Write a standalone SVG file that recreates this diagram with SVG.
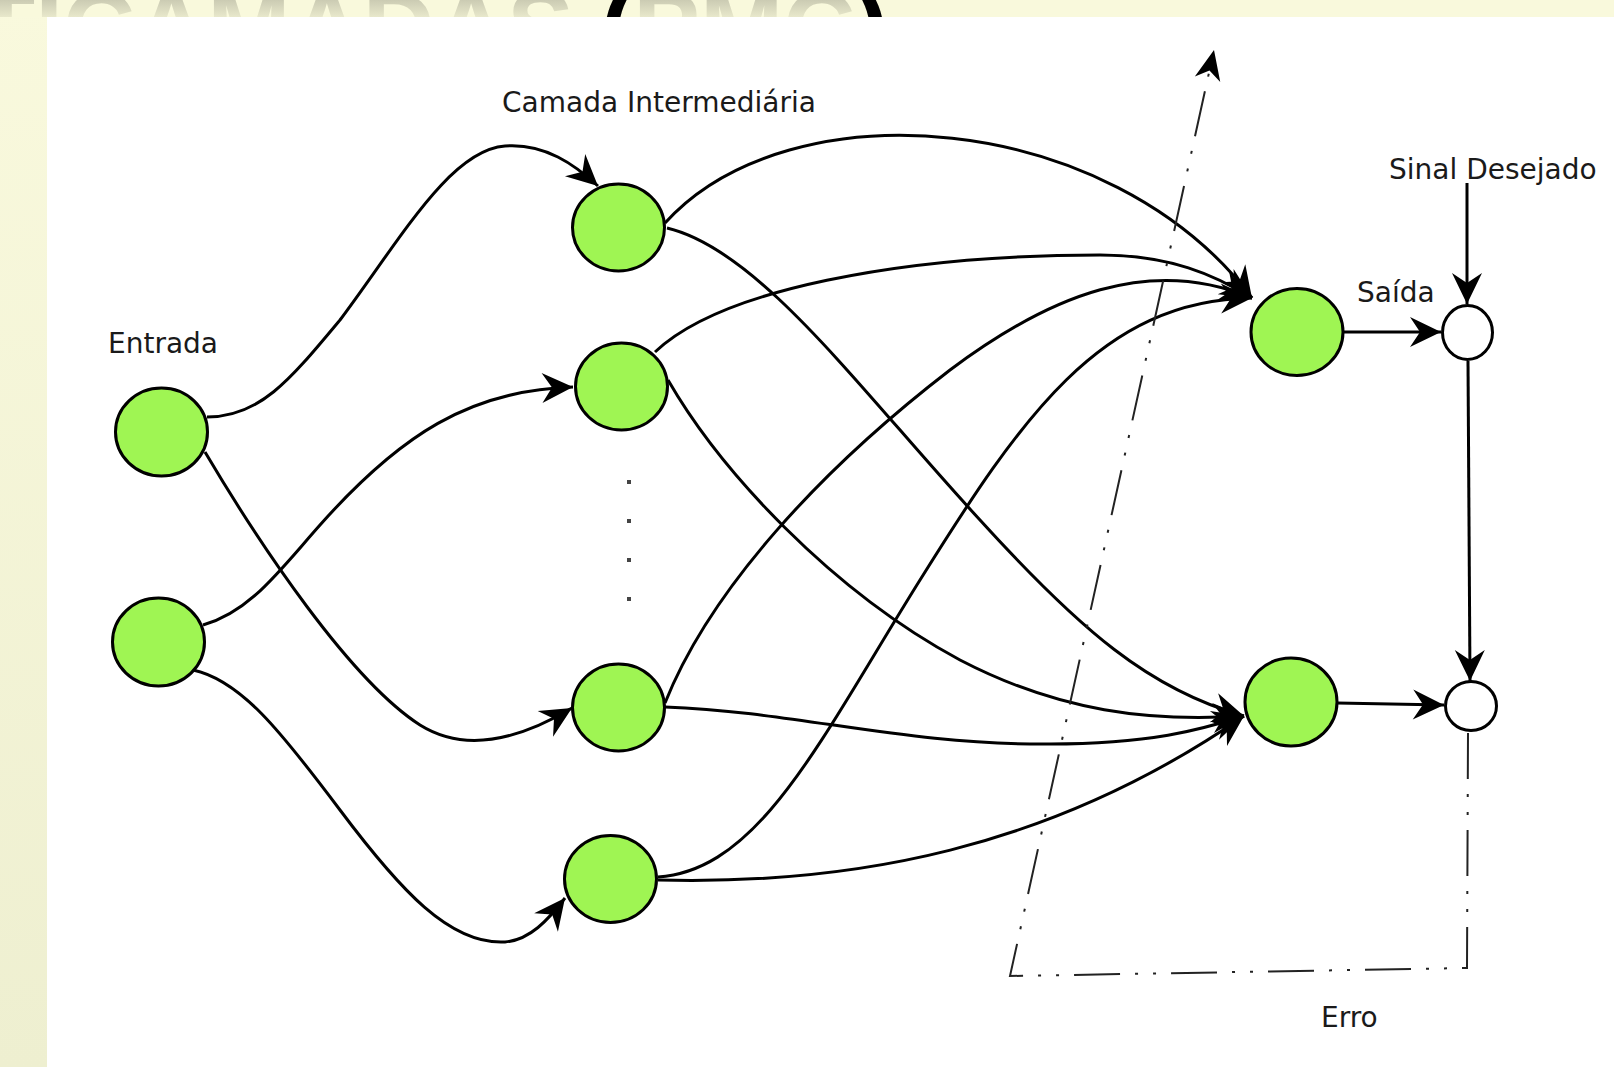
<svg xmlns="http://www.w3.org/2000/svg" width="1614" height="1067" viewBox="0 0 1614 1067">
  <defs>
    <linearGradient id="slideBg" x1="0" y1="0" x2="0" y2="1">
      <stop offset="0" stop-color="#f9f9dd"/>
      <stop offset="1" stop-color="#eeefd0"/>
    </linearGradient>
    <linearGradient id="titleFill" gradientUnits="userSpaceOnUse" x1="0" y1="0" x2="0" y2="17">
      <stop offset="0" stop-color="#cbcbb3"/>
      <stop offset="1" stop-color="#e8e8cb"/>
    </linearGradient>
    <clipPath id="titleClip">
      <rect x="0" y="0" width="1614" height="17"/>
    </clipPath>
    <marker id="ah" viewBox="-33 -17 35 34" refX="0" refY="0" markerWidth="35" markerHeight="34" markerUnits="userSpaceOnUse" orient="auto">
      <path d="M0,0 L-31,-15 L-21,0 L-31,15 Z" fill="#000"/>
    </marker>
    <marker id="ahDash" viewBox="-33 -17 35 34" refX="0" refY="0" markerWidth="35" markerHeight="34" markerUnits="userSpaceOnUse" orient="auto">
      <path d="M0,0 L-30,-13 L-21,0 L-30,13 Z" fill="#000"/>
    </marker>
  </defs>
  <style>
    .node { fill: #9ff553; stroke: #000; stroke-width: 3; }
    .sum { fill: #fff; stroke: #000; stroke-width: 3; }
    .edge { fill: none; stroke: #000; stroke-width: 3; marker-end: url(#ah); }
    .err { fill: none; stroke: #222; stroke-width: 2; stroke-dasharray: 46 15 3 15 3 15; marker-end: url(#ahDash); }
    .lbl { font-family: "DejaVu Sans", "Liberation Sans", sans-serif; font-size: 28px; fill: #1a1a1a; }
    .title { font-family: "Liberation Sans", Arial, sans-serif; font-weight: bold; font-size: 100px; fill: url(#titleFill); }
  </style>

  <!-- slide background with the title band behind the drawing panel -->
  <rect x="0" y="0" width="1614" height="1067" fill="url(#slideBg)"/>
  <rect x="0" y="0" width="1614" height="17" fill="#f9f9dc"/>
  <g clip-path="url(#titleClip)">
    <text class="title" x="574" y="62" text-anchor="end">PERCEPTRON MULTICAMADAS</text>
    <text class="title" x="600" y="62"><tspan fill="#000">(</tspan>PMC<tspan fill="#000">)</tspan></text>
  </g>
  <!-- drawing panel -->
  <rect x="47" y="17" width="1567" height="1050" fill="#fff"/>

  <!-- connectors -->
  <g id="connectors">
    <!-- input layer to hidden layer -->
    <path class="edge" d="M207,417 C260,417 290,380 340,320 C400,240 450,150 505,146 C545,143 575,165 598,186"/>
    <path class="edge" d="M205,452 C260,545 350,680 420,725 C460,750 510,745 572,708"/>
    <path class="edge" d="M203,625 C250,612 280,570 320,525 C400,435 470,390 573,387"/>
    <path class="edge" d="M193,670 C240,680 280,730 340,810 C400,890 450,945 505,942 C530,940 548,920 565,898"/>
    <!-- hidden layer to output 1 -->
    <path class="edge" d="M665,223 C790,85 1110,110 1252,298"/>
    <path class="edge" d="M655,352 C720,290 900,255 1100,255 C1170,255 1215,275 1252,298"/>
    <path class="edge" d="M665,703 C710,590 820,470 950,370 C1050,295 1150,255 1252,298"/>
    <path class="edge" d="M658,877 C760,870 820,740 920,580 C1020,420 1100,300 1252,298"/>
    <!-- hidden layer to output 2 -->
    <path class="edge" d="M667,228 C760,250 860,390 980,520 C1080,630 1150,690 1244,716"/>
    <path class="edge" d="M668,380 C720,470 830,590 960,660 C1060,712 1150,722 1244,716"/>
    <path class="edge" d="M665,707 C800,712 900,745 1050,744 C1150,744 1200,730 1244,716"/>
    <path class="edge" d="M658,880 C850,885 1050,850 1244,716"/>
    <!-- outputs to comparators -->
    <path class="edge" d="M1343,332 L1441,332"/>
    <path class="edge" d="M1337,703 L1444,705"/>
    <!-- desired signal -->
    <path class="edge" d="M1467,183 L1467,304"/>
    <path class="edge" d="M1468,361 L1470,681"/>
    <!-- error feedback -->
    <path class="err" d="M1468,733 L1467,968 L1010,976 L1214,50"/>
  </g>

  <!-- hidden layer ellipsis -->
  <g id="ellipsis" fill="#444">
    <rect x="627" y="480" width="4" height="4"/>
    <rect x="627" y="519" width="4" height="4"/>
    <rect x="627" y="558" width="4" height="4"/>
    <rect x="627" y="597" width="4" height="4"/>
  </g>

  <!-- input layer -->
  <g id="in1"><ellipse class="node" cx="161.5" cy="432" rx="46" ry="44"/></g>
  <g id="in2"><ellipse class="node" cx="158.5" cy="642" rx="46" ry="44"/></g>
  <!-- hidden layer -->
  <g id="h1"><ellipse class="node" cx="618.5" cy="227.5" rx="46" ry="43.5"/></g>
  <g id="h2"><ellipse class="node" cx="621.5" cy="386.5" rx="46" ry="43.5"/></g>
  <g id="h3"><ellipse class="node" cx="618.5" cy="707.5" rx="46" ry="43.5"/></g>
  <g id="h4"><ellipse class="node" cx="610.5" cy="879" rx="46" ry="43.5"/></g>
  <!-- output layer -->
  <g id="out1"><ellipse class="node" cx="1297" cy="332" rx="46" ry="43.5"/></g>
  <g id="out2"><ellipse class="node" cx="1291" cy="702" rx="46" ry="44"/></g>
  <!-- comparators -->
  <g id="sum1"><ellipse class="sum" cx="1467.5" cy="332.5" rx="25" ry="27"/></g>
  <g id="sum2"><ellipse class="sum" cx="1471" cy="706" rx="25.5" ry="24.5"/></g>

  <!-- labels -->
  <g id="labels">
    <text class="lbl" x="108" y="353">Entrada</text>
    <text class="lbl" x="502" y="112">Camada Intermediária</text>
    <text class="lbl" x="1389" y="179">Sinal Desejado</text>
    <text class="lbl" x="1357" y="302">Saída</text>
    <text class="lbl" x="1321" y="1027">Erro</text>
  </g>
</svg>
